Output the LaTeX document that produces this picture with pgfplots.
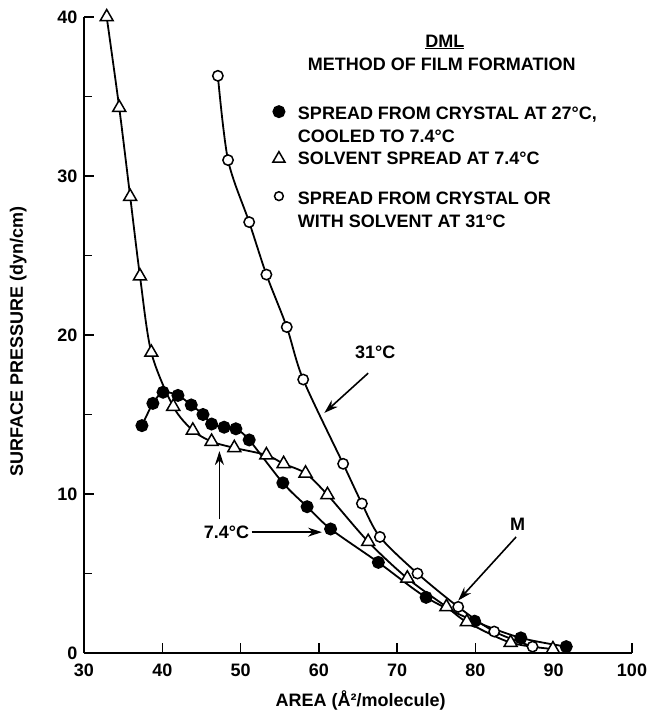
\documentclass[border=0pt]{standalone}
\usepackage{pgfplots}
\pgfplotsset{compat=1.18}
\usepackage{fontspec}
\setmainfont{Liberation Sans}
\usetikzlibrary{arrows.meta}

\pgfplotstableread{
x y
37.4 14.3
38.8 15.7
40.1 16.4
42.0 16.2
43.7 15.6
45.2 15.0
46.3 14.4
47.9 14.2
49.4 14.1
51.1 13.4
55.4 10.7
58.5 9.2
61.5 7.8
67.6 5.7
73.7 3.5
79.9 2.0
85.8 0.95
91.6 0.4
}\cooled

\pgfplotstableread{
x y
32.9 40.0
34.5 34.3
35.9 28.7
37.15 23.7
38.6 18.9
41.4 15.5
43.9 14.0
46.3 13.3
49.2 12.9
53.3 12.45
55.5 11.9
58.3 11.3
61.1 9.95
66.3 7.0
71.3 4.7
76.3 2.9
78.9 1.95
84.5 0.65
89.9 0.25
}\solvent

\pgfplotstableread{
x y
47.1 36.3
48.4 31.0
51.1 27.1
53.3 23.8
55.9 20.5
58.0 17.2
63.1 11.9
65.5 9.4
67.8 7.3
72.6 5.0
77.8 2.9
82.4 1.35
87.3 0.4
}\warm

\pgfplotsset{
  leg cooled/.style={legend image code/.code={\draw[##1,only marks] plot coordinates {(0pt,3pt)};}},
  leg solvent/.style={legend image code/.code={\draw[##1,only marks,mark size=7pt] plot coordinates {(0pt,1pt)};}},
  leg warm/.style={legend image code/.code={\draw[##1,only marks,mark size=4.4pt] plot coordinates {(0pt,-14pt)};}},
}

\begin{document}
\begin{tikzpicture}
\def\txt{\fontsize{18}{22}\selectfont\bfseries}
\begin{axis}[
scale only axis,width=548pt,height=636pt,
xmin=30,xmax=100,ymin=0,ymax=40,
axis lines*=left,axis line style={line width=1.8pt},
xtick={30,40,...,100},ytick={0,10,...,40},minor ytick={5,15,25,35},
tick align=inside,major tick length=10pt,minor tick length=8pt,
every tick/.style={line width=1.5pt,black},
tick label style={font=\fontsize{18}{20}\selectfont\bfseries},
xticklabel style={yshift=-7pt},
yticklabel style={xshift=-3pt},
/pgf/number format/assume math mode=true,
xlabel={AREA (Å²/molecule)},
ylabel={SURFACE PRESSURE (dyn/cm)},
label style={font=\txt},
xlabel style={at={(axis description cs:0.505,-0.074)},anchor=center},
ylabel style={at={(axis description cs:-0.12,0.49)},anchor=center},
legend cell align=left,
legend style={draw=none,fill=none,font=\txt,at={(axis cs:54.1,34.5)},anchor=north west,
  inner sep=0pt,row sep=2.5pt,column sep=12pt,
  nodes={text height=14pt,text depth=4pt,inner sep=1pt}},
]
\addplot[smooth,line width=1.8pt,mark=*,mark size=5.6pt,mark options={fill=black},leg cooled]
  table {\cooled};
\addlegendentry{SPREAD FROM CRYSTAL AT 27°C,}
\addlegendimage{legend image code/.code={}}
\addlegendentry{COOLED TO 7.4°C}
\addplot[smooth,line width=1.8pt,mark=triangle*,mark size=7.5pt,mark options={fill=white,line width=1.5pt},leg solvent]
  table {\solvent};
\addlegendentry{SOLVENT SPREAD AT 7.4°C}
\addplot[smooth,line width=1.8pt,mark=*,mark size=5.2pt,mark options={fill=white,line width=1.5pt},leg warm]
  table {\warm};
\addlegendentry{\raisebox{-17pt}{SPREAD FROM CRYSTAL OR}}
\addlegendimage{legend image code/.code={}}
\addlegendentry{\raisebox{-9pt}{WITH SOLVENT AT 31°C}}

\node[font=\txt] at (axis cs:76.1,38.43) {\underline{DML}};
\node[font=\txt] at (axis cs:75.7,37.0) {METHOD OF FILM FORMATION};

\node[font=\txt] at (axis cs:67.2,18.9) {31°C};
\draw[line width=1.6pt,-{Stealth[length=14pt,width=9pt]}] (axis cs:66.3,17.6) -- (axis cs:60.7,15.1);
\node[font=\txt] at (axis cs:48.2,7.6) {7.4°C};
\draw[line width=1.6pt,-{Stealth[length=14pt,width=9pt]}] (axis cs:51.4,7.6) -- (axis cs:60.4,7.6);
\draw[line width=1.6pt,-{Stealth[length=14pt,width=9pt]}] (axis cs:47.3,8.4) -- (axis cs:47.3,12.7);
\node[font=\txt] at (axis cs:85.4,8.1) {M};
\draw[line width=1.6pt,-{Stealth[length=14pt,width=9pt]}] (axis cs:85.2,7.3) -- (axis cs:77.8,3.3);
\end{axis}
\pgfresetboundingbox
\path[use as bounding box] (-84pt,-62pt) rectangle (565pt,653pt);
\end{tikzpicture}
\end{document}
